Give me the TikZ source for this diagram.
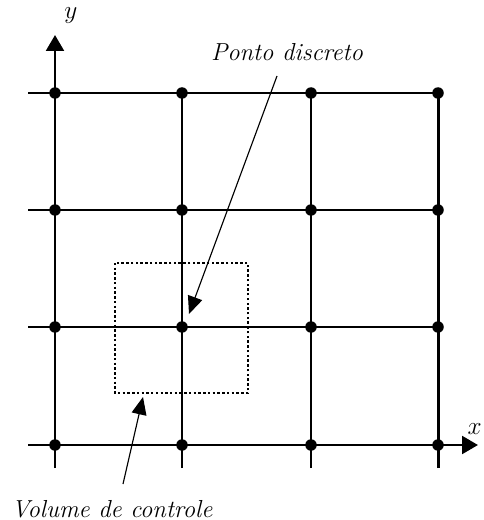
\documentclass[tikz,border=0pt]{standalone}
\usetikzlibrary{arrows.meta,positioning}

\tikzset{
  gridline/.style={line width=1.7pt},
  axisline/.style={line width=1.7pt, -{Triangle[length=9pt,width=10pt]}},
  griddot/.style={circle, fill=black, inner sep=0pt, minimum size=0.23cm},
  leader/.style={line width=0.65pt, -{Triangle[length=10pt,width=8.5pt]}},
  cvbox/.style={line width=1.4pt, dash pattern=on 1.4pt off 1.3pt},
  label/.style={font=\fontsize{14}{16}\selectfont\itshape, inner sep=0pt}
}

\begin{document}
\begin{tikzpicture}[x=0.02cm, y=-0.02cm]
      \useasboundingbox (0,0) rectangle (483,520);

      % Grid points (columns i, rows j)
      \foreach \i/\xx in {1/55,2/182,3/311,4/438}
        \foreach \j/\yy in {1/93,2/210,3/327,4/445}
          \coordinate (p\i\j) at (\xx,\yy);

      % Free ends of the lines
      \coordinate (ytip) at (55,35);
      \coordinate (xtip) at (478,445);
      \foreach \i/\xx in {1/55,2/182,3/311,4/438}
        \coordinate (bot\i) at (\xx,468);
      \foreach \j/\yy in {1/93,2/210,3/327,4/445}
        \coordinate (left\j) at (28,\yy);

      % Vertical lines, the first one is the y axis
      \draw[axisline] (bot1) -- (ytip);
      \foreach \i in {2,3,4}
        \draw[gridline] (bot\i) -- (p\i1);

      % Horizontal lines, the last one is the x axis
      \foreach \j in {1,2,3}
        \draw[gridline] (left\j) -- (p4\j);
      \draw[axisline] (left4) -- (xtip);

      % Dots on the grid points
      \foreach \i in {1,...,4}
        \foreach \j in {1,...,4}
          \node[griddot] (d\i\j) at (p\i\j) {};

      % Axis labels
      \node[label, anchor=south west] (ylab) at (64,24) {$y$};
      \node[label, anchor=south east] (xlab) at (482,435) {$x$};

      % Control volume around the point (2,3)
      \draw[cvbox] (115,263) rectangle (248,393);

      % Labels with arrows
      \node[label] (ponto) at (287,52) {Ponto discreto};
      \coordinate (ponto-start) at (277,76);
      \coordinate (ponto-end) at (189,314);
      \draw[leader] (ponto-start) -- (ponto-end);

      \node[label] (volume) at (112,509) {Volume de controle};
      \coordinate (volume-start) at (123,484);
      \coordinate (volume-end) at (143,397);
      \draw[leader] (volume-start) -- (volume-end);
    \end{tikzpicture}
\end{document}
